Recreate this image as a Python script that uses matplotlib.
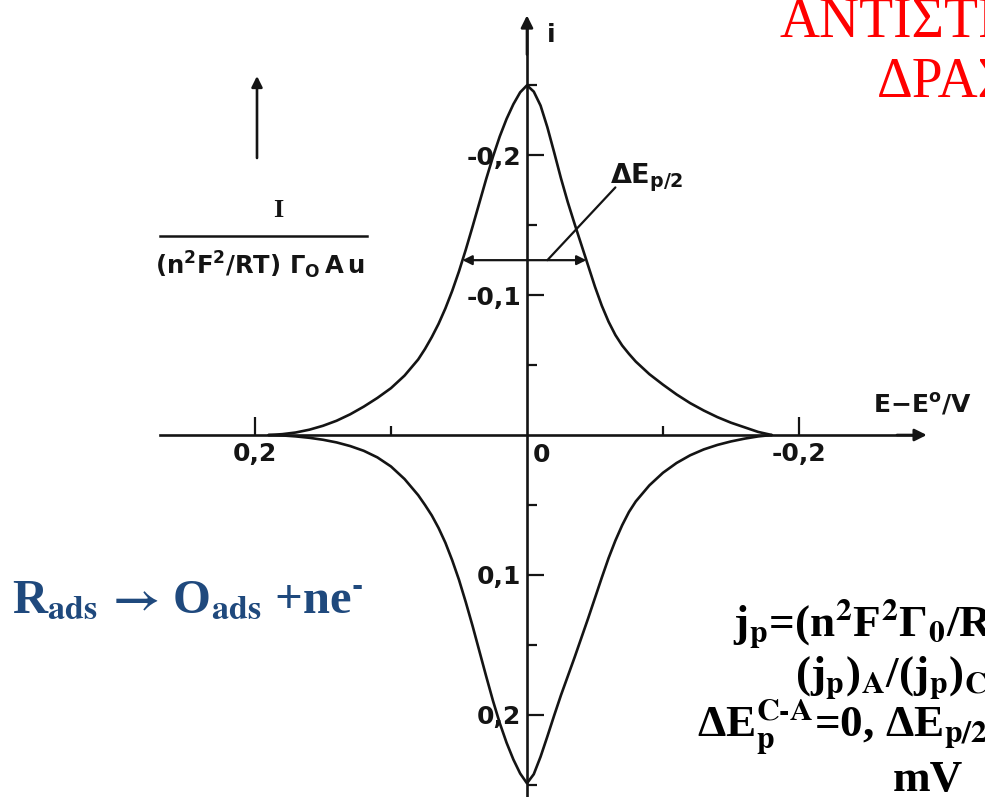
import numpy as np
import matplotlib.pyplot as plt
from matplotlib.lines import Line2D

plt.rcParams['font.family'] = ['DejaVu Sans']
plt.rcParams['mathtext.fontset'] = 'custom'
plt.rcParams['mathtext.rm'] = 'DejaVu Sans:bold'
plt.rcParams['mathtext.it'] = 'DejaVu Sans:bold'
plt.rcParams['mathtext.bf'] = 'DejaVu Sans:bold'

# potencial E - E0 (V) y corriente normalizada
potencial = [0.19, 0.18, 0.17, 0.16, 0.15, 0.14, 0.13, 0.12, 0.11, 0.10, 0.09, 0.08,
             0.075, 0.07, 0.065, 0.06, 0.055, 0.05, 0.045, 0.04, 0.035, 0.03, 0.025,
             0.02, 0.015, 0.01, 0.005, 0.0,
             -0.005, -0.01, -0.015, -0.02, -0.025, -0.03, -0.035, -0.04, -0.045,
             -0.05, -0.055, -0.06, -0.065, -0.07, -0.075, -0.08, -0.09, -0.10,
             -0.11, -0.12, -0.13, -0.14, -0.15, -0.16, -0.17, -0.18]

# rama catodica (arriba, valores negativos)
i_catodica = [-0.0, -0.0006, -0.0018, -0.0038, -0.0066, -0.0102, -0.0148, -0.0203,
              -0.0265, -0.0335, -0.0425, -0.054, -0.0615, -0.070, -0.0795, -0.0905,
              -0.103, -0.117, -0.1325, -0.149, -0.166, -0.183, -0.199, -0.2135,
              -0.226, -0.2365, -0.245, -0.250,
              -0.2455, -0.2355, -0.220, -0.202, -0.1835, -0.1665, -0.151, -0.136,
              -0.121, -0.106, -0.0925, -0.081, -0.0715, -0.064, -0.058, -0.0525,
              -0.0435, -0.036, -0.029, -0.0228, -0.0175, -0.0128, -0.0088, -0.0055,
              -0.0022, -0.0]

# rama anodica (abajo, valores positivos)
i_anodica = [0.0, 0.0003, 0.001, 0.002, 0.0034, 0.0053, 0.0079, 0.0113, 0.016, 0.0225,
             0.0315, 0.043, 0.050, 0.0575, 0.0665, 0.077, 0.0895, 0.1035, 0.1195,
             0.1365, 0.1545, 0.1725, 0.190, 0.206, 0.220, 0.232, 0.242, 0.249,
             0.2425, 0.230, 0.2155, 0.2005, 0.186, 0.1725, 0.159, 0.145, 0.131,
             0.1165, 0.102, 0.088, 0.0755, 0.0645, 0.055, 0.0475, 0.036, 0.027,
             0.020, 0.0145, 0.0103, 0.0071, 0.0046, 0.0026, 0.001, 0.0]

ticks_e = [0.2, -0.2]
etiquetas_e = ['0,2', '-0,2']
ticks_e_menores = [0.1, -0.1]
ticks_i = [-0.2, -0.1, 0.1, 0.2]
etiquetas_i = ['-0,2', '-0,1', '0,1', '0,2']
ticks_i_menores = [-0.25, -0.15, -0.05, 0.05, 0.15, 0.25]

W, H = 985, 797
NEGRO = '#141414'
SERIF = ['Liberation Serif', 'DejaVu Serif']


def px(x, y):
    # pixeles desde arriba-izquierda a fraccion de figura
    return x / W, 1 - y / H


fig = plt.figure(figsize=(W / 100, H / 100), dpi=100)
ax = fig.add_axes([0, 0, 1, 1])
ax.set_xlim(0.3875, -0.3368)
ax.set_ylim(0.2588, -0.311)
ax.patch.set_alpha(0)

ax.plot(potencial, i_catodica, color=NEGRO, lw=1.9, solid_capstyle='round')
ax.plot(potencial, i_anodica, color=NEGRO, lw=1.9, solid_capstyle='round')

# ejes cruzando en el origen
for lado in ['top', 'right']:
    ax.spines[lado].set_visible(False)
ax.spines['left'].set_position(('data', 0))
ax.spines['bottom'].set_position(('data', 0))
ax.spines['left'].set_bounds(-0.29, 0.2588)
ax.spines['bottom'].set_bounds(-0.285, 0.27)
for lado in ['left', 'bottom']:
    ax.spines[lado].set_linewidth(1.9)
    ax.spines[lado].set_color(NEGRO)

ax.annotate('', xy=(-0.296, 0), xytext=(-0.27, 0),
            arrowprops=dict(arrowstyle='-|>', color=NEGRO, lw=1.9, mutation_scale=18))
ax.annotate('', xy=(0, -0.302), xytext=(0, -0.27),
            arrowprops=dict(arrowstyle='-|>', color=NEGRO, lw=1.9, mutation_scale=18))

ax.set_xticks(ticks_e, labels=etiquetas_e)
ax.set_xticks(ticks_e_menores, minor=True)
ax.set_yticks(ticks_i, labels=etiquetas_i)
ax.set_yticks(ticks_i_menores, minor=True)
ax.tick_params(axis='both', which='both', direction='in', color=NEGRO, width=1.6,
               labelsize=18, labelcolor=NEGRO)
ax.tick_params(axis='x', which='major', length=13, pad=5)
ax.tick_params(axis='x', which='minor', length=6.5)
ax.tick_params(axis='y', which='major', length=12, pad=4)
ax.tick_params(axis='y', which='minor', length=7)
for t in ax.get_xticklabels() + ax.get_yticklabels():
    t.set_fontweight('bold')

ax.text(-0.004, 0.006, '0', fontsize=18, fontweight='bold', color=NEGRO,
        ha='left', va='top')

# etiquetas de los ejes
fig.text(*px(547, 42), 'i', fontsize=18, fontweight='bold', color=NEGRO, va='baseline')
fig.text(*px(873, 412), r'$\mathbf{E{-}E^{o}/V}$', fontsize=18, color=NEGRO,
         va='baseline')

# anchura a media altura del pico
mitad = 0.125
neg = [-v for v in i_catodica]
izq = np.interp(mitad, neg[:28], potencial[:28])
der = np.interp(mitad, neg[27:][::-1], potencial[27:][::-1])
ax.annotate('', xy=(izq, -mitad), xytext=(der, -mitad),
            arrowprops=dict(arrowstyle='<|-|>', color=NEGRO, lw=1.6, mutation_scale=14,
                            shrinkA=0, shrinkB=0))
ax.annotate('', xy=(-0.015, -mitad), xytext=(-0.065, -0.177),
            arrowprops=dict(arrowstyle='-', color=NEGRO, lw=1.6, shrinkA=0, shrinkB=0))
fig.text(*px(610, 184), r'$\mathbf{\Delta E_{p/2}}$', fontsize=19.5, color=NEGRO,
         va='baseline')

# rotulo de la corriente normalizada
ax.annotate('', xy=px(257, 76), xytext=px(257, 158), xycoords='figure fraction',
            textcoords='figure fraction',
            arrowprops=dict(arrowstyle='-|>', color=NEGRO, lw=1.9, mutation_scale=16,
                            shrinkA=0, shrinkB=0))
fig.text(*px(278, 217), 'I', fontsize=19, fontweight='bold', family=SERIF,
         color=NEGRO, ha='center', va='baseline')
fig.add_artist(Line2D([160 / W, 367 / W], [1 - 236 / H] * 2, transform=fig.transFigure,
                      color=NEGRO, lw=1.8))
fig.text(*px(260, 274), r'$\mathbf{(n^{2}F^{2}/RT)\ \Gamma_{O}\,A\,u}$', fontsize=17.5,
         color=NEGRO, ha='center', va='baseline')

# titulo
fig.text(*px(780, 37), 'ΑΝΤΙΣΤΡΕΠΤΗ', fontsize=40, family=SERIF,
         color='#ff0000', va='baseline')
fig.text(*px(877, 97), 'ΔΡΑΣΗ', fontsize=40, family=SERIF,
         color='#ff0000', va='baseline')

# reaccion
fig.text(*px(12, 612),
         r'R$_{\mathbf{ads}}$$\,\mathbf{\rightarrow}\,$O$_{\mathbf{ads}}$ +ne$^{\mathbf{‐}}$',
         fontsize=35, fontweight='bold', family=SERIF, color='#1f497d', va='baseline',
         math_fontfamily='stix')

# relaciones del pico
relaciones = [
    (733, 637, r'j$_{\mathbf{p}}$=(n$^{\mathbf{2}}$F$^{\mathbf{2}}$Γ$_{\mathbf{0}}$/RT)v'),
    (795, 687, r'(j$_{\mathbf{p}}$)$_{\mathbf{A}}$/(j$_{\mathbf{p}}$)$_{\mathbf{C}}$=1'),
    (697, 737, r'ΔE$_{\mathbf{p}}^{\mathbf{C‐A}}$=0, ΔE$_{\mathbf{p/2}}$=90.6/n'),
    (893, 791, 'mV'),
]
for x, y, texto in relaciones:
    fig.text(*px(x, y), texto, fontsize=32.5, fontweight='bold', family=SERIF,
             color='black', va='baseline', math_fontfamily='stix')

fig.savefig('out.png', dpi=100)
